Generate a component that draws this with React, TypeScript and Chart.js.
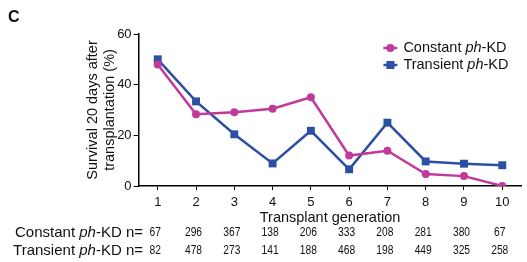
import React, { useEffect, useRef } from "react";
import { Chart, registerables } from "chart.js";

Chart.register(...registerables);

const generations = ["1", "2", "3", "4", "5", "6", "7", "8", "9", "10"];
const constantSurvival = [48, 28.3, 29.1, 30.5, 35, 12, 13.9, 4.7, 3.9, 0];
const transientSurvival = [50, 33.4, 20.4, 8.9, 21.8, 6.6, 25, 9.7, 8.8, 8.2];
const constantN = [67, 296, 367, 138, 206, 333, 208, 281, 380, 67];
const transientN = [82, 478, 273, 141, 188, 468, 198, 449, 325, 258];
const yTicks = [0, 20, 40, 60];

const MAGENTA = "#c1399b";
const BLUE = "#2b4fa3";
const TEXT = "#111111";
const FONT = "'Liberation Sans', Arial, Helvetica, sans-serif";

type Part = { text: string; italic?: boolean };

function partsWidth(ctx: CanvasRenderingContext2D, parts: Part[], size: number) {
  let w = 0;
  for (const p of parts) {
    ctx.font = `${p.italic ? "italic " : ""}${size}px ${FONT}`;
    w += ctx.measureText(p.text).width;
  }
  return w;
}

function drawParts(
  ctx: CanvasRenderingContext2D,
  parts: Part[],
  x: number,
  y: number,
  size: number,
  align: "left" | "right"
) {
  const total = partsWidth(ctx, parts, size);
  let cx = align === "right" ? x - total : x;
  ctx.textAlign = "left";
  for (const p of parts) {
    ctx.font = `${p.italic ? "italic " : ""}${size}px ${FONT}`;
    ctx.fillText(p.text, cx, y);
    cx += ctx.measureText(p.text).width;
  }
}

const seriesLabels: Part[][] = [
  [{ text: "Constant " }, { text: "ph", italic: true }, { text: "-KD" }],
  [{ text: "Transient " }, { text: "ph", italic: true }, { text: "-KD" }],
];

const overlayPlugin = {
  id: "overlay",
  afterDraw(chart: any) {
    const ctx: CanvasRenderingContext2D = chart.ctx;
    const xs = chart.scales.x;
    const area = chart.chartArea;
    ctx.save();
    ctx.fillStyle = TEXT;
    ctx.textBaseline = "middle";

    // Panel letter
    ctx.font = `bold 16px ${FONT}`;
    ctx.textAlign = "left";
    ctx.fillText("C", 8, 18);

    // Legend
    const legendYs = [area.top + 14, area.top + 31];
    const colors = [MAGENTA, BLUE];
    for (let i = 0; i < 2; i++) {
      const y = legendYs[i];
      const mx = area.right - 131;
      ctx.strokeStyle = colors[i];
      ctx.lineWidth = 2.5;
      ctx.beginPath();
      ctx.moveTo(mx - 7, y);
      ctx.lineTo(mx + 7, y);
      ctx.stroke();
      ctx.fillStyle = colors[i];
      ctx.beginPath();
      if (i === 0) ctx.arc(mx, y, 4, 0, Math.PI * 2);
      else ctx.rect(mx - 4, y - 4, 8, 8);
      ctx.fill();
      ctx.fillStyle = TEXT;
      drawParts(ctx, seriesLabels[i], mx + 13, y, 14.5, "left");
    }

    // n table
    const rows = [constantN, transientN];
    const rowYs = [232.5, 250.5];
    for (let r = 0; r < 2; r++) {
      const y = rowYs[r];
      ctx.fillStyle = TEXT;
      drawParts(ctx, [...seriesLabels[r], { text: " n=" }], 143, y, 15, "right");
      ctx.font = `12.5px ${FONT}`;
      ctx.textAlign = "center";
      rows[r].forEach((v, i) => {
        const x = xs.getPixelForValue(i) - 2.5;
        ctx.save();
        ctx.translate(x, y);
        ctx.scale(0.82, 1);
        ctx.fillText(String(v), 0, 0);
        ctx.restore();
      });
    }
    ctx.restore();
  },
};

export default function App() {
  const ref = useRef<HTMLCanvasElement | null>(null);
  useEffect(() => {
    if (!ref.current) return;
    const chart = new Chart(ref.current, {
      type: "line",
      data: {
        labels: generations,
        datasets: [
          {
            label: "Constant ph-KD",
            data: constantSurvival,
            borderColor: MAGENTA,
            backgroundColor: MAGENTA,
            borderWidth: 2.5,
            pointStyle: "circle",
            pointRadius: 4,
            pointBorderWidth: 0,
            tension: 0,
          },
          {
            label: "Transient ph-KD",
            data: transientSurvival,
            borderColor: BLUE,
            backgroundColor: BLUE,
            borderWidth: 2.5,
            pointStyle: "rect",
            pointRadius: 5.6,
            pointBorderWidth: 0,
            tension: 0,
          },
        ],
      },
      options: {
        responsive: false,
        animation: false,
        layout: { padding: { left: 0, right: 0, top: 34, bottom: 0 } },
        plugins: { legend: { display: false }, tooltip: { enabled: false } },
        scales: {
          x: {
            type: "category",
            offset: true,
            grid: {
              drawOnChartArea: false,
              drawTicks: true,
              tickLength: 4,
              color: "#000",
              offset: false,
            },
            border: { display: true, color: "#000", width: 1.5 },
            ticks: {
              color: TEXT,
              font: { family: FONT, size: 13 },
              padding: 5,
              maxRotation: 0,
              autoSkip: false,
            },
            title: {
              display: true,
              text: "Transplant generation",
              color: TEXT,
              font: { family: FONT, size: 14.5 },
              padding: { top: 0, bottom: 35 },
            },
            afterFit: (s: any) => {
              s.height = 76;
            },
          },
          y: {
            min: 0,
            max: 60,
            afterBuildTicks: (s: any) => {
              s.ticks = yTicks.map((v) => ({ value: v }));
            },
            grid: {
              drawOnChartArea: false,
              drawTicks: true,
              tickLength: 5,
              color: "#000",
            },
            border: { display: true, color: "#000", width: 1.5 },
            ticks: {
              color: TEXT,
              font: { family: FONT, size: 13 },
              padding: 2,
            },
            title: {
              display: true,
              text: ["Survival 20 days after", "transplantation (%)"],
              color: TEXT,
              font: { family: FONT, size: 14.5, lineHeight: 1.2 },
              padding: { top: 84, bottom: 0 },
            },
            afterFit: (s: any) => {
              s.width = 138.6;
            },
          },
        },
      },
      plugins: [overlayPlugin],
    });
    return () => chart.destroy();
  }, []);
  return (
    <div style={{ position: "absolute", left: 0, top: 0, width: 527, height: 262, background: "#fff" }}>
      <canvas ref={ref} width={527} height={262} style={{ width: 527, height: 262, display: "block" }} />
    </div>
  );
}
